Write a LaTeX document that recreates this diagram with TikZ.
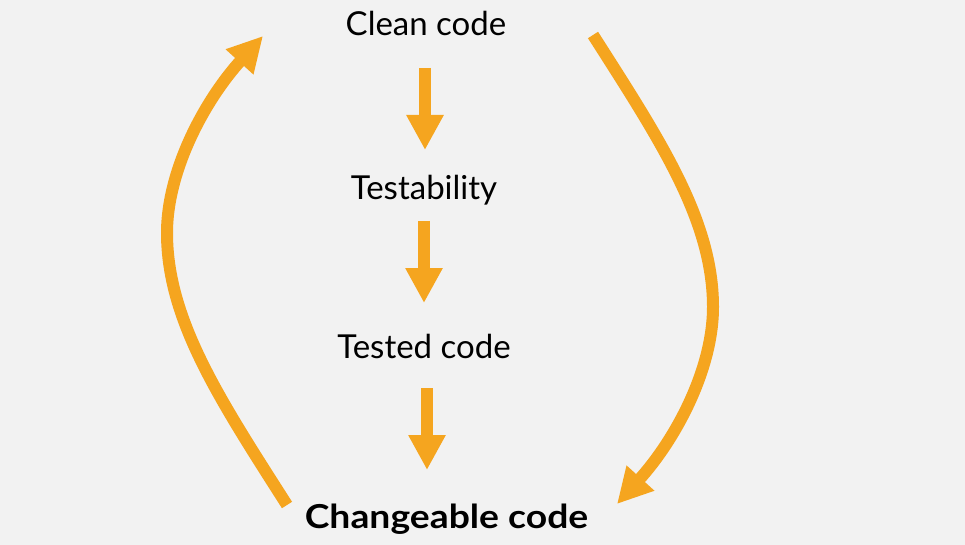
\documentclass[tikz,border=0pt]{standalone}
\usepackage{fontspec}
\setmainfont{Lato}
\usetikzlibrary{arrows.meta,calc}
\definecolor{bg}{HTML}{F2F2F2}
\definecolor{org}{HTML}{F5A51F}
\tikzset{
  lbl/.style={anchor=base,inner sep=0pt,font=\fontsize{33}{40}\selectfont},
  dn/.style={draw=org,line width=12pt,-{Triangle[width=35pt,length=35pt]}},
  loop/.style={draw=org,line width=12pt,-{Triangle[width=35pt,length=35pt]}},
}
\begin{document}
\begin{tikzpicture}[x=1pt,y=-1pt]
\fill[bg] (0,0) rectangle (965,545);
\useasboundingbox (0,0) rectangle (965,545);
\node[lbl] (clean) at (426,36) {Clean code};
\node[lbl] (test) at (424,200) {Testability};
\node[lbl] (tested) at (424,358) {Tested code};
\node[lbl,font=\fontsize{33}{40}\selectfont\bfseries] (change) at (446.5,528) {\scalebox{1.13}[1]{Changeable code}};
\draw[dn] ($(clean.base)+(-1,32)$) -- ($(test.base)+(1,-50)$);
\draw[dn] ($(test.base)+(0,21)$) -- ($(tested.base)+(0,-55)$);
\draw[dn] ($(tested.base)+(3,30)$) -- ($(change.base)+(-19.5,-58)$);
\coordinate (ls) at ($(change.base)+(-159.5,-23)$);
\coordinate (le) at ($(clean.base)+(-163,0)$);
\coordinate (rs) at ($(clean.base)+(167,-1)$);
\coordinate (re) at ($(change.base)+(170.5,-24)$);
\draw[loop] (ls) .. controls (220,400) and (167,320) .. (167,233)
  .. controls (167,170) and (205,100) .. (le);
\draw[loop] (rs) .. controls (660,140) and (713,220) .. (713,307)
  .. controls (713,370) and (675,440) .. (re);
\end{tikzpicture}
\end{document}
